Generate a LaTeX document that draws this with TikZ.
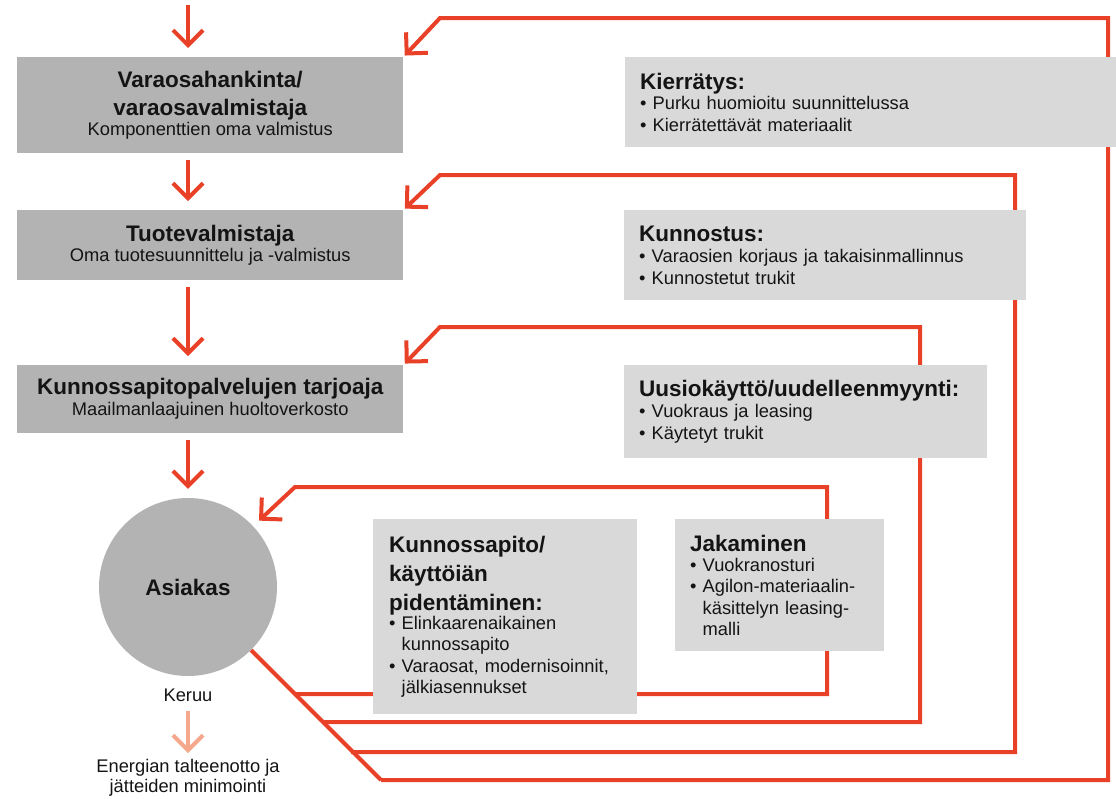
\documentclass[tikz,border=0pt]{standalone}
\usepackage{fontspec}
\setmainfont{Liberation Sans}
\usetikzlibrary{arrows.meta,backgrounds}
\definecolor{redl}{RGB}{233,65,40}
\definecolor{palered}{RGB}{245,168,139}
\definecolor{boxdark}{RGB}{179,179,179}
\definecolor{boxlight}{RGB}{217,217,217}
\definecolor{txt}{RGB}{20,20,20}
\newcommand\myhd[1]{\mbox{\fontsize{22.5}{27}\selectfont\bfseries #1}}
\newcommand\mybl[1]{\mbox{•\ #1}}
\newcommand\mycl[1]{\mbox{\phantom{•\ }#1}}
\begin{document}
\begin{tikzpicture}[x=1pt,y=-1pt,
  every node/.style={text=txt},
  lbox/.style={fill=boxdark, draw=none, minimum width=386pt, inner sep=0pt, align=center, anchor=north west, font=\fontsize{18.3}{22}\selectfont},
  rbox/.style={fill=boxlight, draw=none, anchor=north west, inner xsep=15pt, inner ysep=0pt, align=left, font=\fontsize{18.3}{22}\selectfont},
  plain/.style={inner sep=0pt, align=center, font=\fontsize{18.3}{20.5}\selectfont},
  redarrow/.style={draw=redl, line width=4pt, -{Straight Barb[length=15pt,width=30pt]}},
  palearrow/.style={draw=palered, line width=4pt, -{Straight Barb[length=15pt,width=30pt]}},
  fb/.style={draw=redl, line width=4pt, line join=miter, -{Straight Barb[length=15pt,width=30pt]}},
]
\useasboundingbox (0,0) rectangle (1116,798);

% left column
\node[lbox, minimum height=96pt] (b1) at (17,57) {\myhd{Varaosahankinta/}\\[6pt]\myhd{varaosavalmistaja}\\[-1.5pt]Komponenttien oma valmistus};
\node[lbox, minimum height=70pt] (b2) at (17,210) {\myhd{Tuotevalmistaja}\\[-1.5pt]Oma tuotesuunnittelu ja -valmistus};
\node[lbox, minimum height=68pt] (b3) at (17,365) {\myhd{Kunnossapitopalvelujen tarjoaja}\\[-1pt]Maailmanlaajuinen huoltoverkosto};
\node[circle, fill=boxdark, minimum size=178pt, inner sep=0pt, font=\fontsize{22.5}{27}\selectfont\bfseries] (ask) at (188,587) {Asiakas};
\node[plain] (keruu) at (188,695) {Keruu};
\node[plain] (energ) at (188,778) {Energian talteenotto ja\\jätteiden minimointi};

% right boxes
\node[rbox, minimum width=491pt, minimum height=90pt, text width=461pt] (kier) at (625,57)
  {\myhd{Kierrätys:}\\[-1.5pt]\mybl{Purku huomioitu suunnittelussa}\\\mybl{Kierrätettävät materiaalit}};
\node[rbox, minimum width=402pt, minimum height=90pt, text width=372pt] (kunn) at (624,210)
  {\myhd{Kunnostus:}\\[-1.5pt]\mybl{Varaosien korjaus ja takaisinmallinnus}\\\mybl{Kunnostetut trukit}};
\node[rbox, minimum width=363pt, minimum height=93pt, text width=333pt] (uus) at (624,365)
  {\myhd{Uusiokäyttö/uudelleenmyynti:}\\[-1.5pt]\mybl{Vuokraus ja leasing}\\\mybl{Käytetyt trukit}};
\node[rbox, minimum width=264pt, minimum height=195pt, text width=232pt, inner xsep=16pt] (kpito) at (373,519)
  {\myhd{Kunnossapito/}\\[7pt]\myhd{käyttöiän}\\[7pt]\myhd{pidentäminen:}\\[-3pt]\mybl{Elinkaarenaikainen}\\[-0.7pt]\mycl{kunnossapito}\\[-0.7pt]\mybl{Varaosat, modernisoinnit,}\\[-0.7pt]\mycl{jälkiasennukset}};
\node[rbox, minimum width=209pt, minimum height=132pt, text width=179pt] (jak) at (675,519)
  {\myhd{Jakaminen}\\[-2pt]\mybl{Vuokranosturi}\\[-0.5pt]\mybl{Agilon-materiaalin-}\\[-0.5pt]\mycl{käsittelyn leasing-}\\[-0.5pt]\mycl{malli}};

% coordinates
\coordinate (topin) at (188,5);
\coordinate (c1) at (381,780);
\coordinate (c2) at (351,752);
\coordinate (c3) at (323,722);
\coordinate (c4) at (295,694);

% main flow arrows
\draw[redarrow, shorten >=9pt] (topin) -- (b1.north -| topin);
\draw[redarrow, shorten <=7pt, shorten >=9pt] (b1.south -| ask) -- (b2.north -| ask);
\draw[redarrow, shorten <=7pt, shorten >=9pt] (b2.south -| ask) -- (b3.north -| ask);
\draw[redarrow, shorten <=7pt, shorten >=9pt] (b3.south -| ask) -- (ask.north);
\draw[palearrow, shorten <=9pt, shorten >=6pt] (keruu.south) -- (energ.north);

% feedback loops
\begin{scope}[on background layer]
\draw[redl, line width=4pt] (ask.-45) -- (c1);
\draw[fb, shorten >=2pt] (c1) -- (1108,780) -- (1108,18) -- (440,18) -- (b1.north east);
\draw[fb, shorten >=2pt] (c2) -- (1015,752) -- (1015,175) -- (440,175) -- (b2.north east);
\draw[fb, shorten >=2pt] (c3) -- (920,722) -- (920,327) -- (440,327) -- (b3.north east);
\draw[fb, shorten >=8pt] (c4) -- (827,694) -- (827,487) -- (295,487) -- (ask);
\end{scope}
\end{tikzpicture}
\end{document}
